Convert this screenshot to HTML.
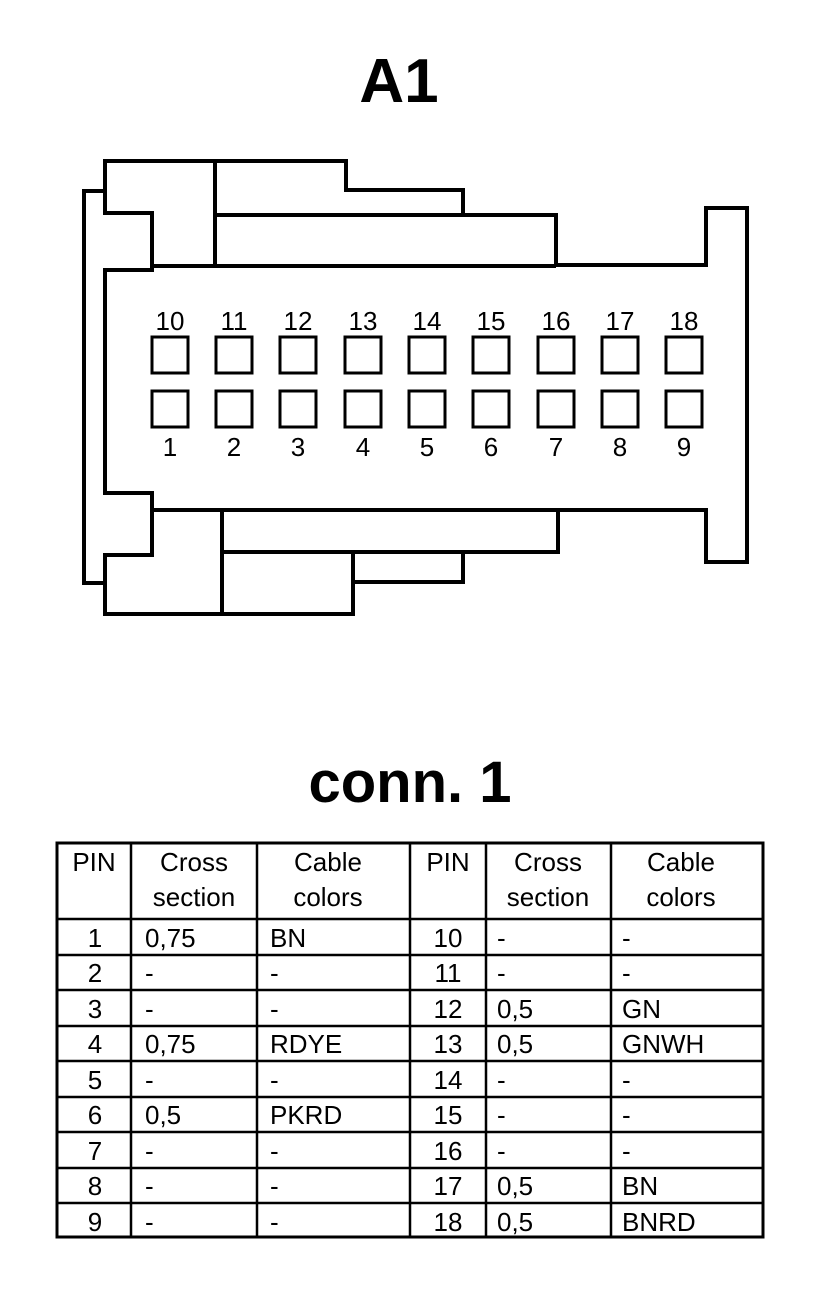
<!DOCTYPE html>
<html><head><meta charset="utf-8"><style>
html,body{margin:0;padding:0;background:#fff;}
svg{display:block;}
text{font-family:"Liberation Sans",sans-serif;fill:#000;}
</style></head><body>
<svg width="832" height="1312" viewBox="0 0 832 1312" xmlns="http://www.w3.org/2000/svg">
<text x="399" y="102" font-size="62" font-weight="bold" text-anchor="middle">A1</text>
<g fill="none" stroke="#000" stroke-width="4" stroke-linejoin="miter">
<polyline points="105,191 84,191 84,583 105,583"/>
<polygon points="105,161 346,161 346,190 463,190 463,215 556,215 556,265 706,265 706,208 747,208 747,562 706,562 706,510 558,510 558,552 463,552 463,582 353,582 353,614 105,614 105,555 152,555 152,493 105,493 105,270 152,270 152,213 105,213"/>
<line x1="152" y1="266" x2="556" y2="266"/>
<line x1="215" y1="161" x2="215" y2="266"/>
<line x1="215" y1="215" x2="463" y2="215"/>
<line x1="152" y1="510" x2="558" y2="510"/>
<line x1="222" y1="510" x2="222" y2="614"/>
<line x1="222" y1="552" x2="463" y2="552"/>
<line x1="353" y1="552" x2="353" y2="614"/>
<g stroke-width="3">
<rect x="152" y="337" width="36" height="36"/><rect x="216" y="337" width="36" height="36"/><rect x="280" y="337" width="36" height="36"/><rect x="345" y="337" width="36" height="36"/><rect x="409" y="337" width="36" height="36"/><rect x="473" y="337" width="36" height="36"/><rect x="538" y="337" width="36" height="36"/><rect x="602" y="337" width="36" height="36"/><rect x="666" y="337" width="36" height="36"/>
<rect x="152" y="391" width="36" height="36"/><rect x="216" y="391" width="36" height="36"/><rect x="280" y="391" width="36" height="36"/><rect x="345" y="391" width="36" height="36"/><rect x="409" y="391" width="36" height="36"/><rect x="473" y="391" width="36" height="36"/><rect x="538" y="391" width="36" height="36"/><rect x="602" y="391" width="36" height="36"/><rect x="666" y="391" width="36" height="36"/>
</g>
</g>
<g font-size="26" text-anchor="middle">
<text x="170" y="330">10</text><text x="234" y="330">11</text><text x="298" y="330">12</text><text x="363" y="330">13</text><text x="427" y="330">14</text><text x="491" y="330">15</text><text x="556" y="330">16</text><text x="620" y="330">17</text><text x="684" y="330">18</text>
<text x="170" y="456">1</text><text x="234" y="456">2</text><text x="298" y="456">3</text><text x="363" y="456">4</text><text x="427" y="456">5</text><text x="491" y="456">6</text><text x="556" y="456">7</text><text x="620" y="456">8</text><text x="684" y="456">9</text>
</g>
<text x="410" y="802" font-size="58" font-weight="bold" text-anchor="middle">conn. 1</text>
<g stroke="#000" fill="none">
<rect x="57" y="843" width="706" height="394" stroke-width="3"/>
<g stroke-width="2.5">
<line x1="131" y1="843" x2="131" y2="1237"/><line x1="257" y1="843" x2="257" y2="1237"/><line x1="410" y1="843" x2="410" y2="1237"/><line x1="486" y1="843" x2="486" y2="1237"/><line x1="611" y1="843" x2="611" y2="1237"/>
<line x1="57" y1="919" x2="763" y2="919"/><line x1="57" y1="955" x2="763" y2="955"/><line x1="57" y1="990" x2="763" y2="990"/><line x1="57" y1="1026" x2="763" y2="1026"/><line x1="57" y1="1061" x2="763" y2="1061"/><line x1="57" y1="1097" x2="763" y2="1097"/><line x1="57" y1="1132" x2="763" y2="1132"/><line x1="57" y1="1168" x2="763" y2="1168"/><line x1="57" y1="1203" x2="763" y2="1203"/>
</g>
</g>
<g font-size="26">
<g text-anchor="middle">
<text x="94" y="871">PIN</text><text x="194" y="871">Cross</text><text x="194" y="906">section</text><text x="328" y="871">Cable</text><text x="328" y="906">colors</text>
<text x="448" y="871">PIN</text><text x="548" y="871">Cross</text><text x="548" y="906">section</text><text x="681" y="871">Cable</text><text x="681" y="906">colors</text>
<text x="95" y="947">1</text><text x="95" y="982">2</text><text x="95" y="1018">3</text><text x="95" y="1053">4</text><text x="95" y="1089">5</text><text x="95" y="1124">6</text><text x="95" y="1160">7</text><text x="95" y="1195">8</text><text x="95" y="1231">9</text>
<text x="448" y="947">10</text><text x="448" y="982">11</text><text x="448" y="1018">12</text><text x="448" y="1053">13</text><text x="448" y="1089">14</text><text x="448" y="1124">15</text><text x="448" y="1160">16</text><text x="448" y="1195">17</text><text x="448" y="1231">18</text>
</g>
<text x="145" y="947">0,75</text><text x="270" y="947">BN</text>
<text x="145" y="982">-</text><text x="270" y="982">-</text>
<text x="145" y="1018">-</text><text x="270" y="1018">-</text>
<text x="145" y="1053">0,75</text><text x="270" y="1053">RDYE</text>
<text x="145" y="1089">-</text><text x="270" y="1089">-</text>
<text x="145" y="1124">0,5</text><text x="270" y="1124">PKRD</text>
<text x="145" y="1160">-</text><text x="270" y="1160">-</text>
<text x="145" y="1195">-</text><text x="270" y="1195">-</text>
<text x="145" y="1231">-</text><text x="270" y="1231">-</text>
<text x="497" y="947">-</text><text x="622" y="947">-</text>
<text x="497" y="982">-</text><text x="622" y="982">-</text>
<text x="497" y="1018">0,5</text><text x="622" y="1018">GN</text>
<text x="497" y="1053">0,5</text><text x="622" y="1053">GNWH</text>
<text x="497" y="1089">-</text><text x="622" y="1089">-</text>
<text x="497" y="1124">-</text><text x="622" y="1124">-</text>
<text x="497" y="1160">-</text><text x="622" y="1160">-</text>
<text x="497" y="1195">0,5</text><text x="622" y="1195">BN</text>
<text x="497" y="1231">0,5</text><text x="622" y="1231">BNRD</text>
</g>
</svg>
</body></html>
